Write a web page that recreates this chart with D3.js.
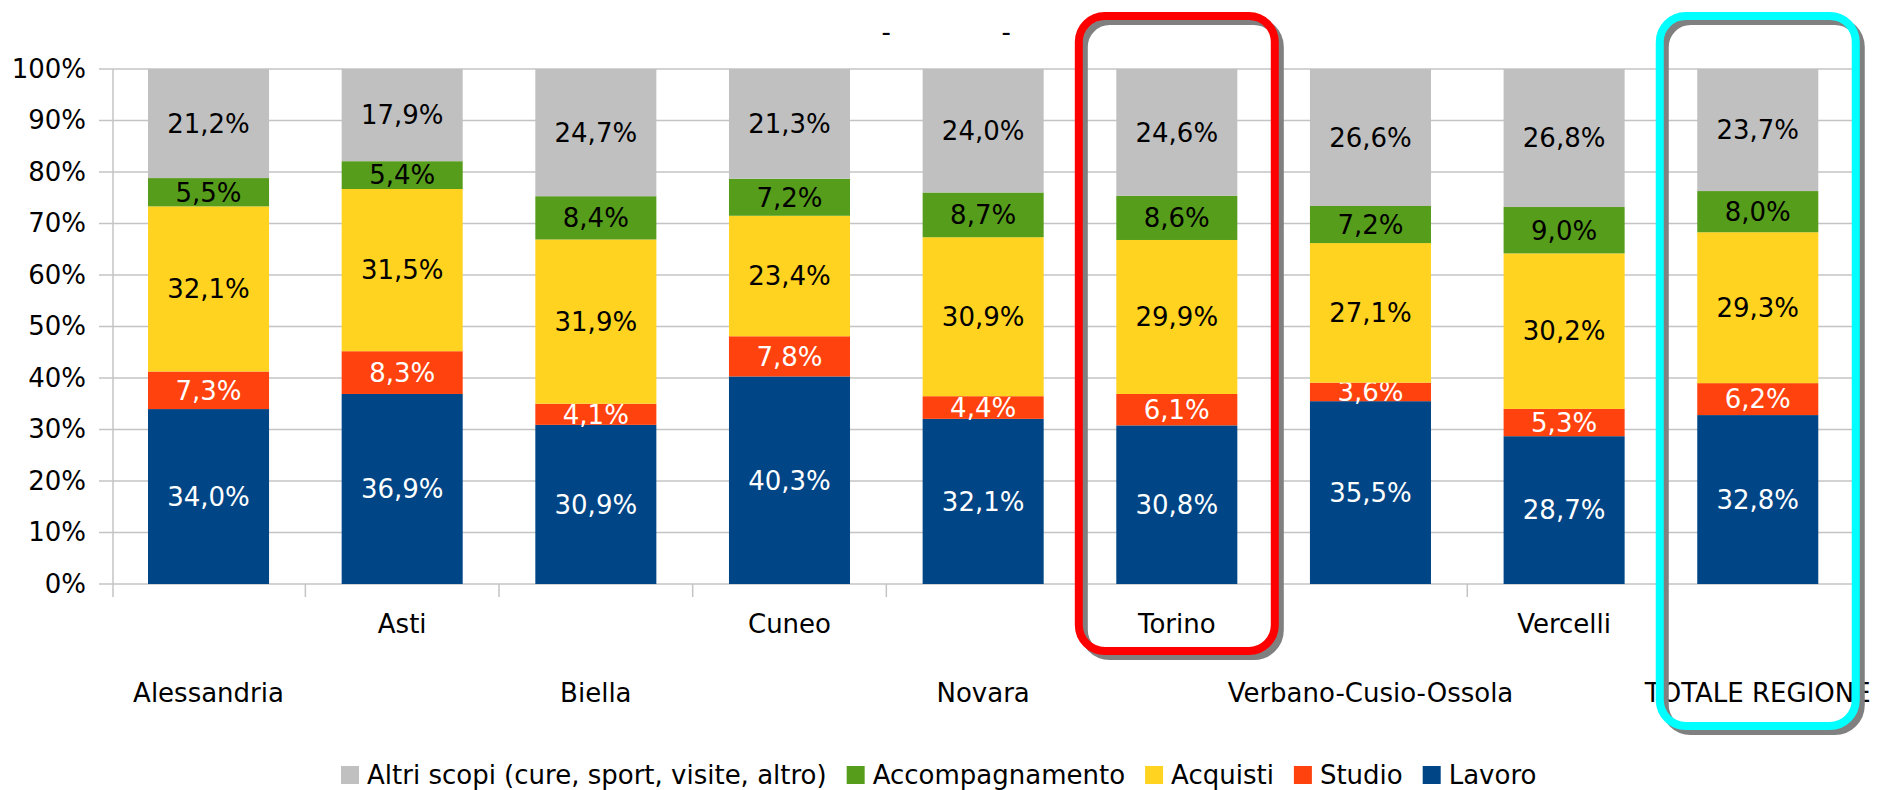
<!DOCTYPE html>
<html>
<head>
<meta charset="utf-8">
<script src="https://cdn.jsdelivr.net/npm/d3@7"></script>
<style>
  body { margin: 0; background: #fff; }
  text { font-family: "DejaVu Sans", sans-serif; }
</style>
</head>
<body>
<svg id="chart" width="1890" height="790"></svg>
<script>
// categories (provinces + region total)
const categories = ["Alessandria", "Asti", "Biella", "Cuneo", "Novara", "Torino",
  "Verbano-Cusio-Ossola", "Vercelli", "TOTALE REGIONE"]

// series values, % (bottom to top of the stack)
const lavoro = [34.0, 36.9, 30.9, 40.3, 32.1, 30.8, 35.5, 28.7, 32.8]
const studio = [7.3, 8.3, 4.1, 7.8, 4.4, 6.1, 3.6, 5.3, 6.2]
const acquisti = [32.1, 31.5, 31.9, 23.4, 30.9, 29.9, 27.1, 30.2, 29.3]
const accompagnamento = [5.5, 5.4, 8.4, 7.2, 8.7, 8.6, 7.2, 9.0, 8.0]
const altri = [21.2, 17.9, 24.7, 21.3, 24.0, 24.6, 26.6, 26.8, 23.7]

const seriesNames = ["Lavoro", "Studio", "Acquisti", "Accompagnamento", "Altri scopi (cure, sport, visite, altro)"]
const seriesColors = ["#004586", "#ff420e", "#ffd320", "#579d1c", "#c0c0c0"]
const labelColors = ["#ffffff", "#ffffff", "#000000", "#000000", "#000000"]
const yTicks = [0, 0.1, 0.2, 0.3, 0.4, 0.5, 0.6, 0.7, 0.8, 0.9, 1]
const titleBits = ["-", "-"]
// categories that are framed
const highlights = [{ name: "Torino", color: "#ff0000", bottom: 651 },
                    { name: "TOTALE REGIONE", color: "#00ffff", bottom: 726 }]

const keys = ["lavoro", "studio", "acquisti", "accompagnamento", "altri"]
const table = categories.map((c, i) => ({
  cat: c, lavoro: lavoro[i], studio: studio[i], acquisti: acquisti[i],
  accompagnamento: accompagnamento[i], altri: altri[i]
}))

const svg = d3.select("#chart")
const fmt = v => v.toFixed(1).replace(".", ",") + "%"

const x = d3.scaleBand().domain(categories).range([111.7, 1854.6]).paddingInner(0.375).paddingOuter(0.1875)
const y = d3.scaleLinear().domain([0, 1]).range([584, 69])

const stack = d3.stack().keys(keys).offset(d3.stackOffsetExpand)
const layers = stack(table)

// gridlines
svg.append("g").selectAll("line").data(yTicks).join("line")
  .attr("x1", 99).attr("x2", 1854.6)
  .attr("y1", d => y(d)).attr("y2", d => y(d))
  .attr("stroke", "#c4c4c4").attr("stroke-width", 1.5)

// y axis
const yAxis = svg.append("g").attr("transform", "translate(113,0)")
  .call(d3.axisLeft(y).tickValues(yTicks).tickFormat(d3.format(".0%")).tickSize(0).tickPadding(27))
yAxis.select(".domain").remove()
yAxis.selectAll("text").attr("font-size", 26).attr("fill", "#000")
svg.append("line").attr("x1", 113).attr("x2", 113).attr("y1", 69).attr("y2", 597)
  .attr("stroke", "#c4c4c4").attr("stroke-width", 1.5)

// x axis ticks at band boundaries
const step = x.step()
svg.append("g").selectAll("line").data(d3.range(1, categories.length)).join("line")
  .attr("x1", i => 111.7 + i * step).attr("x2", i => 111.7 + i * step)
  .attr("y1", 584).attr("y2", 597)
  .attr("stroke", "#c4c4c4").attr("stroke-width", 1.5)

// bars
const g = svg.append("g")
layers.forEach((layer, li) => {
  g.append("g").selectAll("rect").data(layer).join("rect")
    .attr("x", d => x(d.data.cat))
    .attr("width", x.bandwidth())
    .attr("y", d => y(d[1]))
    .attr("height", d => y(d[0]) - y(d[1]))
    .attr("fill", seriesColors[li])
  g.append("g").selectAll("text").data(layer).join("text")
    .attr("x", d => x(d.data.cat) + x.bandwidth() / 2)
    .attr("y", d => (y(d[0]) + y(d[1])) / 2)
    .attr("dy", "0.36em")
    .attr("text-anchor", "middle")
    .attr("font-size", 26)
    .attr("fill", labelColors[li])
    .text(d => fmt(d.data[keys[li]]))
})

// category labels, staggered on two rows
svg.append("g").selectAll("text").data(categories).join("text")
  .attr("x", d => x(d) + x.bandwidth() / 2)
  .attr("y", (d, i) => i % 2 === 0 ? 702 : 633)
  .attr("text-anchor", "middle")
  .attr("font-size", 26)
  .text(d => d)

// the little dashes on top (leftover of the title)
const mid = x("Novara") + x.bandwidth() / 2
svg.append("g").selectAll("text").data(titleBits).join("text")
  .attr("x", (d, i) => mid + (i === 0 ? -97 : 23))
  .attr("y", 41)
  .attr("text-anchor", "middle")
  .attr("font-size", 26)
  .text(d => d)

// legend
const legend = svg.append("g")
let lx = 341
const legendOrder = [4, 3, 2, 1, 0]
legendOrder.forEach(si => {
  legend.append("rect").attr("x", lx).attr("y", 766).attr("width", 18).attr("height", 18)
    .attr("fill", seriesColors[si])
  const t = legend.append("text").attr("x", lx + 26).attr("y", 784)
    .attr("font-size", 26).text(seriesNames[si])
  lx += 26 + t.node().getComputedTextLength() + 20
})

// rounded highlight frames with shadow
highlights.forEach(h => {
  const cx = x(h.name) + x.bandwidth() / 2
  const w = 196, top = 16
  svg.append("rect")
    .attr("x", cx - w / 2 + 5).attr("y", top + 5)
    .attr("width", w).attr("height", h.bottom - top)
    .attr("rx", 26).attr("fill", "none")
    .attr("stroke", "#808080").attr("stroke-width", 8)
  svg.append("rect")
    .attr("x", cx - w / 2).attr("y", top)
    .attr("width", w).attr("height", h.bottom - top)
    .attr("rx", 26).attr("fill", "none")
    .attr("stroke", h.color).attr("stroke-width", 8)
})
</script>
</body>
</html>
